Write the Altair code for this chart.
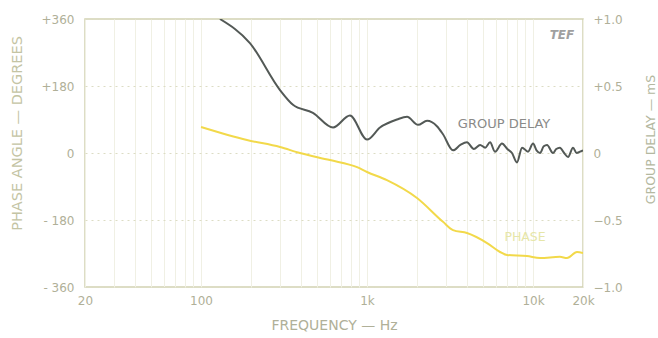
import altair as alt
import pandas as pd

# Group delay curve (ms) vs frequency (Hz)
gd_freq = [130, 197, 299, 358, 472, 624, 789, 1000, 1197, 1516, 1742, 2029, 2300, 2637, 2869, 3296,
           3650, 4000, 4400, 4800, 5150, 5510, 5900, 6500, 7000, 7470, 8000, 8590, 9330, 10000,
           10500, 11020, 11600, 12140, 13190, 13800, 14520, 15400, 16250, 17420, 18300, 19190, 20000]
gd_ms = [1.0, 0.82, 0.47, 0.36, 0.30, 0.19, 0.28, 0.10, 0.19, 0.25, 0.27, 0.21, 0.24, 0.20, 0.14, 0.02,
         0.06, 0.08, 0.03, 0.06, 0.04, 0.08, 0.01, 0.07, 0.03, 0.0, -0.07, 0.04, 0.01, 0.07,
         0.02, 0.0, 0.05, 0.06, 0.0, 0.03, 0.04, 0.0, -0.03, 0.04, 0.0, 0.01, 0.02]

# Phase curve (degrees) vs frequency (Hz)
ph_freq = [100, 189, 299, 394, 598, 871, 1000, 1318, 2000, 2869, 3296, 4000, 5285, 6325, 6970,
           9200, 11020, 14520, 16030, 18400, 20000]
ph_deg = [70, 35, 16, 0, -19, -38, -51, -73, -121, -185, -207, -215, -242, -266, -274,
          -277, -282, -279, -282, -266, -269]

# Axis ticks
x_major = [20, 100, 1000, 10000, 20000]
x_major_labels = ["20", "100", "1k", "10k", "20k"]
x_grid = [20, 30, 40, 50, 60, 70, 80, 90, 100, 200, 300, 400, 500, 600, 700, 800, 900,
          1000, 2000, 3000, 4000, 5000, 6000, 7000, 8000, 9000, 10000, 20000]
phase_ticks = [-360, -180, 0, 180, 360]
gd_ticks = [-1.0, -0.5, 0.0, 0.5, 1.0]

# Annotations
gd_label_text = ["GROUP DELAY"]
gd_label_freq = [6690]
gd_label_ms = [0.22]
tef_text = ["TEF"]
tef_freq = [14940]
tef_ms = [0.88]
ph_notes_text = ["PHASE"]
ph_notes_freq = [8950]
ph_notes_deg = [-226]

gd_df = pd.DataFrame({"f": gd_freq, "v": gd_ms})
ph_df = pd.DataFrame({"f": ph_freq, "v": ph_deg})
gd_notes = pd.DataFrame({"f": gd_label_freq, "v": gd_label_ms, "t": gd_label_text})
tef_df = pd.DataFrame({"f": tef_freq, "v": tef_ms, "t": tef_text})
ph_notes = pd.DataFrame({"f": ph_notes_freq, "v": ph_notes_deg, "t": ph_notes_text})

FONT = "DejaVu Sans"
LBL = "#b0b098"

expr = "''"
for val, lab in reversed(list(zip(x_major, x_major_labels))):
    expr = f"datum.value == {val} ? '{lab}' : ({expr})"

xscale = alt.Scale(type="log", domain=[20, 20000], nice=False)
ph_scale = alt.Scale(domain=[-360, 360], nice=False)
gd_scale = alt.Scale(domain=[-1, 1], nice=False)

x_axis = alt.Axis(
    values=x_grid, labelExpr=expr, title="FREQUENCY — Hz", grid=True,
    gridColor="#f0f0e4", gridWidth=1, ticks=False, domain=False,
    labelFont=FONT, labelFontSize=12, labelColor=LBL, labelPadding=8,
    titleFont=FONT, titleFontSize=14, titleFontWeight="normal", titleColor=LBL,
    titlePadding=12, labelFlush=False)


def xenc():
    return alt.X("f:Q", scale=xscale, axis=x_axis)


ph_axis = alt.Axis(
    values=phase_ticks, title="PHASE ANGLE — DEGREES", orient="left",
    labelExpr="datum.value > 0 ? '+' + datum.value : (datum.value == 0 ? '0' : '- ' + abs(datum.value))",
    grid=True, gridColor="#dcdcc4", gridDash=[2, 4], gridWidth=1,
    ticks=False, domain=False, labelFont=FONT, labelFontSize=12, labelColor=LBL,
    labelPadding=11, titleFont=FONT, titleFontSize=14.5, titleFontWeight="normal",
    titleColor="#c4c4a4", titleX=-68, titleY=114, titleBaseline="middle", titleAngle=270)

gd_axis = alt.Axis(
    values=gd_ticks, title="GROUP DELAY — mS", orient="right",
    labelExpr="datum.value > 0 ? '+' + format(datum.value, '.1f') : (datum.value == 0 ? '0' : format(datum.value, '.1f'))",
    grid=False, ticks=False, domain=False, labelFont=FONT, labelFontSize=12,
    labelColor=LBL, labelPadding=10, titleFont=FONT, titleFontSize=12.5,
    titleFontWeight="normal", titleColor="#b4b8a0", titleX=67, titleY=120,
    titleBaseline="middle", titleAngle=270)

ph_line = alt.Chart(ph_df).mark_line(color="#f2d94a", strokeWidth=2, clip=True,
                                     interpolate="monotone").encode(
    x=xenc(), y=alt.Y("v:Q", scale=ph_scale, axis=ph_axis))
ph_text = alt.Chart(ph_notes).mark_text(font=FONT, fontSize=12.5, color="#e6e6a8").encode(
    x=xenc(), y=alt.Y("v:Q", scale=ph_scale, axis=ph_axis), text="t:N")

gd_line = alt.Chart(gd_df).mark_line(color="#535956", strokeWidth=2, clip=True,
                                     interpolate="monotone").encode(
    x=xenc(), y=alt.Y("v:Q", scale=gd_scale, axis=gd_axis))
gd_text = alt.Chart(gd_notes).mark_text(font=FONT, fontSize=13, color="#8a8a88").encode(
    x=xenc(), y=alt.Y("v:Q", scale=gd_scale, axis=gd_axis), text="t:N")
tef_mark = alt.Chart(tef_df).mark_text(font=FONT, fontSize=12, color="#a0a0a0",
                                       fontStyle="italic", fontWeight="bold").encode(
    x=xenc(), y=alt.Y("v:Q", scale=gd_scale, axis=gd_axis), text="t:N")

chart = alt.layer(
    alt.layer(ph_line, ph_text),
    alt.layer(gd_line, gd_text, tef_mark),
).resolve_scale(y="independent").properties(
    width=498, height=268,
    padding={"left": 85, "top": 19, "right": 75, "bottom": 51},
    autosize=alt.AutoSizeParams(type="none"),
    background="white",
).configure_view(stroke="#d2d2b2", strokeWidth=1.5)

chart.save("out.html", embed_options={"renderer": "svg", "actions": False})
